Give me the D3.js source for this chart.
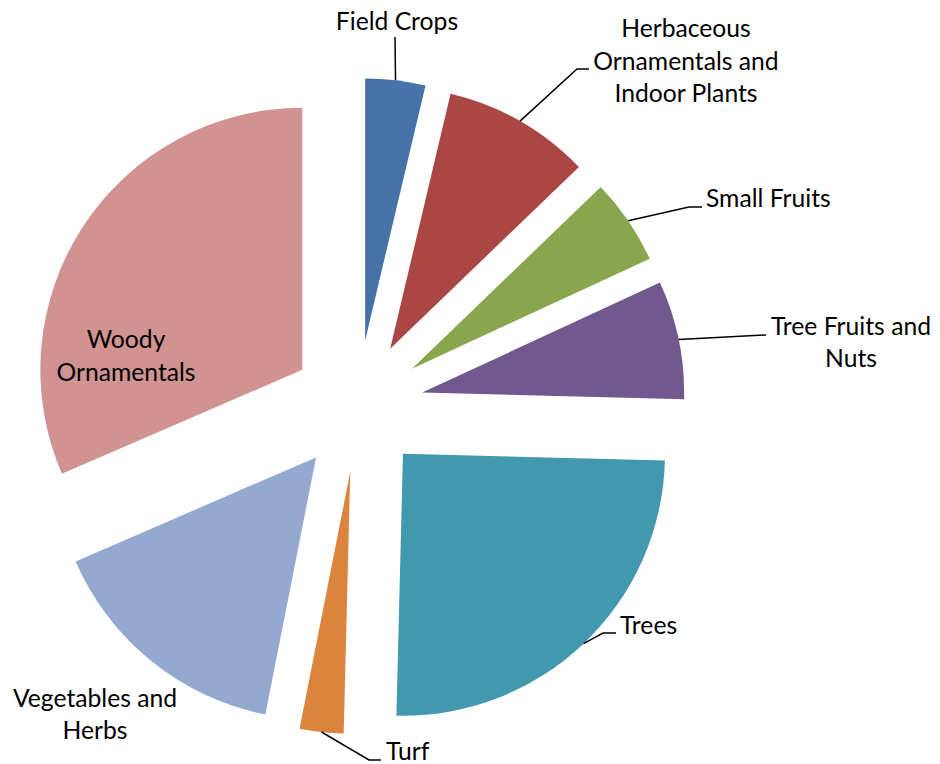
<!DOCTYPE html>
<html>
<head>
<meta charset="utf-8">
<script src="https://cdn.jsdelivr.net/npm/d3@7"></script>
<style>
  html, body { margin: 0; padding: 0; background: #fff; }
  svg { display: block; }
  text { font-family: Lato, "Open Sans", sans-serif; fill: #000; }
</style>
</head>
<body>
<svg id="chart" width="940" height="764"></svg>
<script>
// Share of extension topics, in percent
const categories = [
  "Field Crops",
  "Herbaceous Ornamentals and Indoor Plants",
  "Small Fruits",
  "Tree Fruits and Nuts",
  "Trees",
  "Turf",
  "Vegetables and Herbs",
  "Woody Ornamentals"
];
const shares = [3.7, 9.1, 5.3, 7.3, 25.0, 2.7, 15.4, 31.5];
const colors = ["#4572A7", "#AA4643", "#89A54E", "#71588F", "#4198AF", "#DB843D", "#93A9CF", "#D19392"];

// Label text, broken into lines
const labelLines = [
  ["Field Crops"],
  ["Herbaceous", "Ornamentals and", "Indoor Plants"],
  ["Small Fruits"],
  ["Tree Fruits and", "Nuts"],
  ["Trees"],
  ["Turf"],
  ["Vegetables and", "Herbs"],
  ["Woody", "Ornamentals"]
];

// Label placement: anchor, x, line baselines, leader bend points (null = no leader)
const labelLayout = [
  { anchor: "middle", x: 397, ys: [30],            leader: [[395, 37]] },
  { anchor: "middle", x: 686, ys: [37, 70, 102],   leader: [[577, 69], [589, 69]] },
  { anchor: "start",  x: 706, ys: [207],           leader: [[689, 207], [702, 207]] },
  { anchor: "middle", x: 851, ys: [335, 367],      leader: [[766, 335]] },
  { anchor: "start",  x: 620, ys: [634],           leader: [[603, 633], [616, 633]] },
  { anchor: "start",  x: 386, ys: [760],           leader: [[369, 760], [381, 760]] },
  { anchor: "middle", x: 95,  ys: [707, 739],      leader: null },
  { anchor: "middle", x: 126, ys: [348, 381],      leader: null }
];

const cx = 357.5, cy = 406, radius = 262, explode = 66;
const fontSize = 24.7;

const svg = d3.select("#chart");
const g = svg.append("g").attr("transform", `translate(${cx},${cy})`);

const pie = d3.pie().sort(null).value(d => d);
const arcs = pie(shares);
const arc = d3.arc().innerRadius(0).outerRadius(radius);

const offset = (d, r) => {
  const a = (d.startAngle + d.endAngle) / 2;
  return [r * Math.sin(a), -r * Math.cos(a)];
};

// Exploded slices
g.selectAll("path.slice")
  .data(arcs)
  .join("path")
  .attr("class", "slice")
  .attr("d", arc)
  .attr("fill", (d, i) => colors[i])
  .attr("transform", d => {
    const [dx, dy] = offset(d, explode);
    return `translate(${dx},${dy})`;
  });

// Leader lines from the middle of each outer arc
const lineGen = d3.line();
arcs.forEach((d, i) => {
  const lay = labelLayout[i];
  if (!lay.leader) return;
  const [ox, oy] = offset(d, explode);
  const [ax, ay] = offset(d, radius);
  const start = [cx + ox + ax, cy + oy + ay];
  svg.append("path")
    .attr("d", lineGen([start, ...lay.leader]))
    .attr("fill", "none")
    .attr("stroke", "#000")
    .attr("stroke-width", 1.5);
});

// Category labels
categories.forEach((name, i) => {
  const lay = labelLayout[i];
  const t = svg.append("text")
    .attr("text-anchor", lay.anchor)
    .attr("font-size", fontSize);
  labelLines[i].forEach((line, j) => {
    t.append("tspan").attr("x", lay.x).attr("y", lay.ys[j]).text(line);
  });
});
</script>
</body>
</html>
